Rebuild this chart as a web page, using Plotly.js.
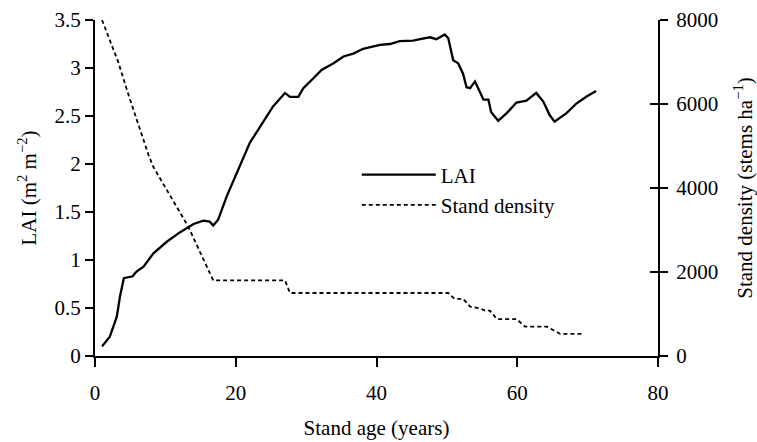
<!DOCTYPE html>
<html>
<head>
<meta charset="utf-8">
<script src="https://cdn.plot.ly/plotly-3.0.1.min.js"></script>
<style>html,body{margin:0;padding:0;background:#fff;}</style>
</head>
<body>
<div id="chart" style="width:757px;height:442px;"></div>
<script>
const laiAge = [1,2.1,3.1,3.55,4.1,5.35,5.9,6.9,8.3,10.2,12.1,14.0,15.4,16.3,16.8,17.5,18.7,20.1,22.0,23.9,25.3,27.0,27.7,28.9,29.6,31.0,32.2,33.9,35.3,36.7,38.1,40.5,41.9,43.3,45.2,46.2,47.6,48.5,49.7,50.2,50.9,51.6,52.3,52.8,53.3,54.0,54.4,55.2,55.9,56.3,57.3,58.5,59.9,61.3,62.7,63.7,64.6,65.3,67.0,68.4,69.8,71.2];
const laiValues = [0.10,0.20,0.41,0.62,0.81,0.83,0.88,0.93,1.07,1.19,1.29,1.375,1.41,1.40,1.36,1.42,1.66,1.90,2.22,2.44,2.60,2.74,2.70,2.70,2.79,2.89,2.98,3.05,3.12,3.15,3.20,3.24,3.25,3.28,3.285,3.30,3.32,3.30,3.35,3.31,3.08,3.05,2.94,2.80,2.79,2.86,2.79,2.67,2.67,2.54,2.45,2.53,2.64,2.66,2.74,2.65,2.51,2.44,2.53,2.63,2.70,2.76];
const densAge = [1,3.3,4.7,6.2,7.6,8.3,10.2,12.3,13.25,16.8,27.0,27.7,50.2,51.1,52.3,53.3,54.7,55.4,56.1,57.1,59.9,61.1,64.2,65.1,66.1,69.4];
const densValues = [8000,7000,6250,5500,4790,4500,3950,3320,3080,1800,1800,1500,1500,1360,1360,1175,1135,1080,1080,880,880,700,700,620,525,525];
const xTicks = [0,20,40,60,80];
const yTicks = [0,0.5,1,1.5,2,2.5,3,3.5];
const y2Ticks = [0,2000,4000,6000,8000];

const FONT = 'Liberation Serif, Times New Roman, serif';
const FS = 21;
const traces = [
  {x: laiAge, y: laiValues, name: 'LAI', mode: 'lines',
   line: {color: '#000', width: 2.3}},
  {x: densAge, y: densValues, name: 'Stand density', mode: 'lines', yaxis: 'y2',
   line: {color: '#000', width: 1.8, dash: '4px,3px'}},
  {x: [], y: [], yaxis: 'y3', showlegend: false, hoverinfo: 'skip'}
];
const axisCommon = {showgrid: false, zeroline: false, showline: true, linecolor: '#000', linewidth: 2,
  ticks: 'outside', tickwidth: 2, ticklen: 8, tickcolor: '#000',
  tickfont: {family: FONT, size: FS, color: '#000'}};
const layout = {
  width: 757, height: 442,
  margin: {l: 95, r: 99, t: 20, b: 86},
  paper_bgcolor: '#fff', plot_bgcolor: '#fff',
  font: {family: FONT, size: FS, color: '#000'},
  showlegend: true,
  legend: {x: 0.465, y: 0.6, xanchor: 'left', yanchor: 'top', bgcolor: 'rgba(0,0,0,0)',
    itemwidth: 74, tracegroupgap: 0, font: {family: FONT, size: FS, color: '#000'}},
  xaxis: Object.assign({}, axisCommon, {range: [0, 80], tickvals: xTicks, ticklen: 9,
    ticklabelstandoff: 8,
    title: {text: 'Stand age (years)', font: {family: FONT, size: FS}, standoff: 16}}),
  yaxis: Object.assign({}, axisCommon, {range: [0, 3.5], tickvals: yTicks,
    title: {text: 'LAI (m<sup>2</sup> m<sup>\u22122</sup>)', font: {family: FONT, size: FS}, standoff: 12}}),
  yaxis2: Object.assign({}, axisCommon, {range: [0, 8000], tickvals: y2Ticks, overlaying: 'y', side: 'right',
    ticklen: 8, ticklabelstandoff: 4,
    title: {text: 'Stand density (stems ha<sup>\u22121</sup>)', font: {family: FONT, size: FS}, standoff: 20}}),
  yaxis3: Object.assign({}, axisCommon, {range: [0, 8000], tickvals: y2Ticks, overlaying: 'y', side: 'right',
    ticks: 'inside', ticklen: 8, showticklabels: false, showline: false})
};
Plotly.newPlot('chart', traces, layout, {displayModeBar: false, staticPlot: true});
</script>
</body>
</html>
